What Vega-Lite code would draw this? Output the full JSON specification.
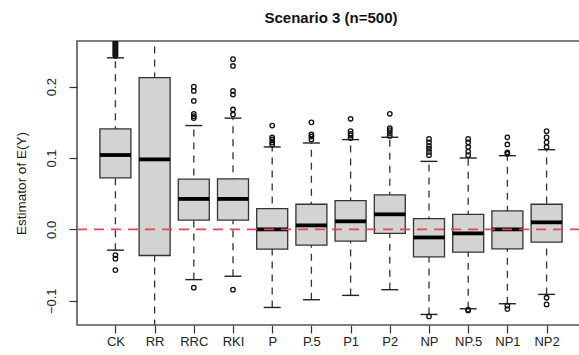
{
  "$schema": "https://vega.github.io/schema/vega-lite/v6.json",
  "autosize": "none",
  "width": 508,
  "height": 284,
  "padding": {"left": 77, "top": 41, "right": 0, "bottom": 30},
  "background": "white",
  "config": {
    "font": "Liberation Sans",
    "view": {"stroke": "#555555", "strokeWidth": 1.6},
    "title": {"fontSize": 15, "fontWeight": "bold", "color": "#111111", "offset": 15}
  },
  "title": {"text": "Scenario 3 (n=500)", "anchor": "middle"},
  "datasets": {
    "stats": [
      {"g": "CK", "lo": -0.0291, "q1": 0.0723, "med": 0.1042, "q3": 0.1408, "hi": 0.2404},
      {"g": "RR", "lo": -0.3, "q1": -0.0366, "med": 0.0981, "q3": 0.2127, "hi": 0.4},
      {"g": "RRC", "lo": -0.0704, "q1": 0.0131, "med": 0.0427, "q3": 0.0704, "hi": 0.1455},
      {"g": "RKI", "lo": -0.0657, "q1": 0.0131, "med": 0.0427, "q3": 0.0709, "hi": 0.1559},
      {"g": "P", "lo": -0.1094, "q1": -0.0277, "med": 0.0, "q3": 0.0291, "hi": 0.1155},
      {"g": "P.5", "lo": -0.0986, "q1": -0.0221, "med": 0.0056, "q3": 0.0352, "hi": 0.1211},
      {"g": "P1", "lo": -0.0925, "q1": -0.0164, "med": 0.0113, "q3": 0.0404, "hi": 0.1258},
      {"g": "P2", "lo": -0.0845, "q1": -0.0056, "med": 0.0211, "q3": 0.0484, "hi": 0.1291},
      {"g": "NP", "lo": -0.1192, "q1": -0.0385, "med": -0.0113, "q3": 0.015, "hi": 0.0953},
      {"g": "NP.5", "lo": -0.1113, "q1": -0.0319, "med": -0.0056, "q3": 0.0211, "hi": 0.1},
      {"g": "NP1", "lo": -0.1042, "q1": -0.0272, "med": 0.0, "q3": 0.0258, "hi": 0.1033},
      {"g": "NP2", "lo": -0.0911, "q1": -0.0178, "med": 0.0099, "q3": 0.0352, "hi": 0.1117}
    ],
    "outliers": [
      {"g": "CK", "v": 0.243}, {"g": "CK", "v": 0.245}, {"g": "CK", "v": 0.247}, {"g": "CK", "v": 0.249},
      {"g": "CK", "v": 0.251}, {"g": "CK", "v": 0.253}, {"g": "CK", "v": 0.255}, {"g": "CK", "v": 0.257},
      {"g": "CK", "v": 0.259}, {"g": "CK", "v": 0.261}, {"g": "CK", "v": 0.263}, {"g": "CK", "v": 0.266},
      {"g": "CK", "v": 0.27}, {"g": "CK", "v": 0.28},
      {"g": "CK", "v": -0.036}, {"g": "CK", "v": -0.041}, {"g": "CK", "v": -0.057},
      {"g": "RRC", "v": 0.2}, {"g": "RRC", "v": 0.194}, {"g": "RRC", "v": 0.18}, {"g": "RRC", "v": 0.162},
      {"g": "RRC", "v": 0.1587}, {"g": "RRC", "v": 0.156}, {"g": "RRC", "v": -0.0817},
      {"g": "RKI", "v": 0.2385}, {"g": "RKI", "v": 0.229}, {"g": "RKI", "v": 0.194}, {"g": "RKI", "v": 0.189},
      {"g": "RKI", "v": 0.168}, {"g": "RKI", "v": 0.161}, {"g": "RKI", "v": -0.0845},
      {"g": "P", "v": 0.1455}, {"g": "P", "v": 0.129}, {"g": "P", "v": 0.126}, {"g": "P", "v": 0.122}, {"g": "P", "v": 0.119},
      {"g": "P.5", "v": 0.15}, {"g": "P.5", "v": 0.133}, {"g": "P.5", "v": 0.13}, {"g": "P.5", "v": 0.126},
      {"g": "P1", "v": 0.155}, {"g": "P1", "v": 0.1376}, {"g": "P1", "v": 0.134}, {"g": "P1", "v": 0.1315}, {"g": "P1", "v": 0.128},
      {"g": "P2", "v": 0.162}, {"g": "P2", "v": 0.142}, {"g": "P2", "v": 0.139}, {"g": "P2", "v": 0.135}, {"g": "P2", "v": 0.131},
      {"g": "NP", "v": 0.1268}, {"g": "NP", "v": 0.122}, {"g": "NP", "v": 0.117}, {"g": "NP", "v": 0.113},
      {"g": "NP", "v": 0.1085}, {"g": "NP", "v": 0.104}, {"g": "NP", "v": -0.122},
      {"g": "NP.5", "v": 0.1268}, {"g": "NP.5", "v": 0.122}, {"g": "NP.5", "v": 0.1155}, {"g": "NP.5", "v": 0.109},
      {"g": "NP.5", "v": 0.104}, {"g": "NP.5", "v": -0.1136}, {"g": "NP.5", "v": -0.1125},
      {"g": "NP1", "v": 0.129}, {"g": "NP1", "v": 0.119}, {"g": "NP1", "v": 0.108}, {"g": "NP1", "v": 0.106},
      {"g": "NP1", "v": -0.107}, {"g": "NP1", "v": -0.1117},
      {"g": "NP2", "v": 0.1376}, {"g": "NP2", "v": 0.129}, {"g": "NP2", "v": 0.122}, {"g": "NP2", "v": 0.1155},
      {"g": "NP2", "v": -0.0958}, {"g": "NP2", "v": -0.1052}
    ],
    "ref": [{"v": 0}]
  },
  "encoding": {
    "x": {
      "field": "g", "type": "nominal",
      "scale": {"type": "point", "padding": 0.98, "domain": ["CK", "RR", "RRC", "RKI", "P", "P.5", "P1", "P2", "NP", "NP.5", "NP1", "NP2"]},
      "axis": {"title": null, "labelAngle": 0, "domain": false, "ticks": true, "tickSize": 8, "tickColor": "#333333", "tickWidth": 1.2, "labelFontSize": 13, "labelColor": "#222222", "labelPadding": 2, "grid": false}
    }
  },
  "layer": [
    {
      "data": {"name": "stats"},
      "mark": {"type": "rule", "strokeDash": [7, 6], "color": "#333333", "strokeWidth": 1.3, "clip": true},
      "encoding": {
        "y": {"field": "lo", "type": "quantitative",
          "scale": {"domain": [-0.134, 0.264], "nice": false, "zero": false},
          "axis": {"title": "Estimator of E(Y)", "values": [-0.1, 0, 0.1, 0.2], "format": ".1f", "domain": false, "grid": false,
            "tickSize": 8, "tickColor": "#333333", "tickWidth": 1.2, "labelAngle": -90, "labelFontSize": 13, "labelColor": "#222222",
            "labelPadding": 11, "titleFontSize": 13.5, "titleFontWeight": "normal", "titleColor": "#222222", "titlePadding": 17}},
        "y2": {"field": "hi"}
      }
    },
    {
      "data": {"name": "stats"},
      "mark": {"type": "tick", "color": "#222222", "opacity": 1, "size": 17, "thickness": 1.4, "clip": true},
      "encoding": {"y": {"field": "hi", "type": "quantitative"}}
    },
    {
      "data": {"name": "stats"},
      "mark": {"type": "tick", "color": "#222222", "opacity": 1, "size": 17, "thickness": 1.4, "clip": true},
      "encoding": {"y": {"field": "lo", "type": "quantitative"}}
    },
    {
      "data": {"name": "stats"},
      "mark": {"type": "bar", "size": 31, "fill": "#d3d3d3", "opacity": 1, "stroke": "#333333", "strokeWidth": 1.3, "clip": true},
      "encoding": {"y": {"field": "q1", "type": "quantitative"}, "y2": {"field": "q3"}}
    },
    {
      "data": {"name": "stats"},
      "mark": {"type": "tick", "color": "#000000", "opacity": 1, "size": 31, "thickness": 3.8, "clip": true},
      "encoding": {"y": {"field": "med", "type": "quantitative"}}
    },
    {
      "data": {"name": "outliers"},
      "mark": {"type": "point", "shape": "circle", "filled": false, "color": "#111111", "opacity": 1, "size": 20, "strokeWidth": 1.3, "clip": true},
      "encoding": {"y": {"field": "v", "type": "quantitative"}}
    },
    {
      "data": {"name": "ref"},
      "mark": {"type": "rule", "color": "#e5484d", "strokeDash": [10, 7], "strokeWidth": 1.8, "clip": true},
      "encoding": {"y": {"field": "v", "type": "quantitative"}, "x": {"value": 0}, "x2": {"value": 508}}
    }
  ]
}
